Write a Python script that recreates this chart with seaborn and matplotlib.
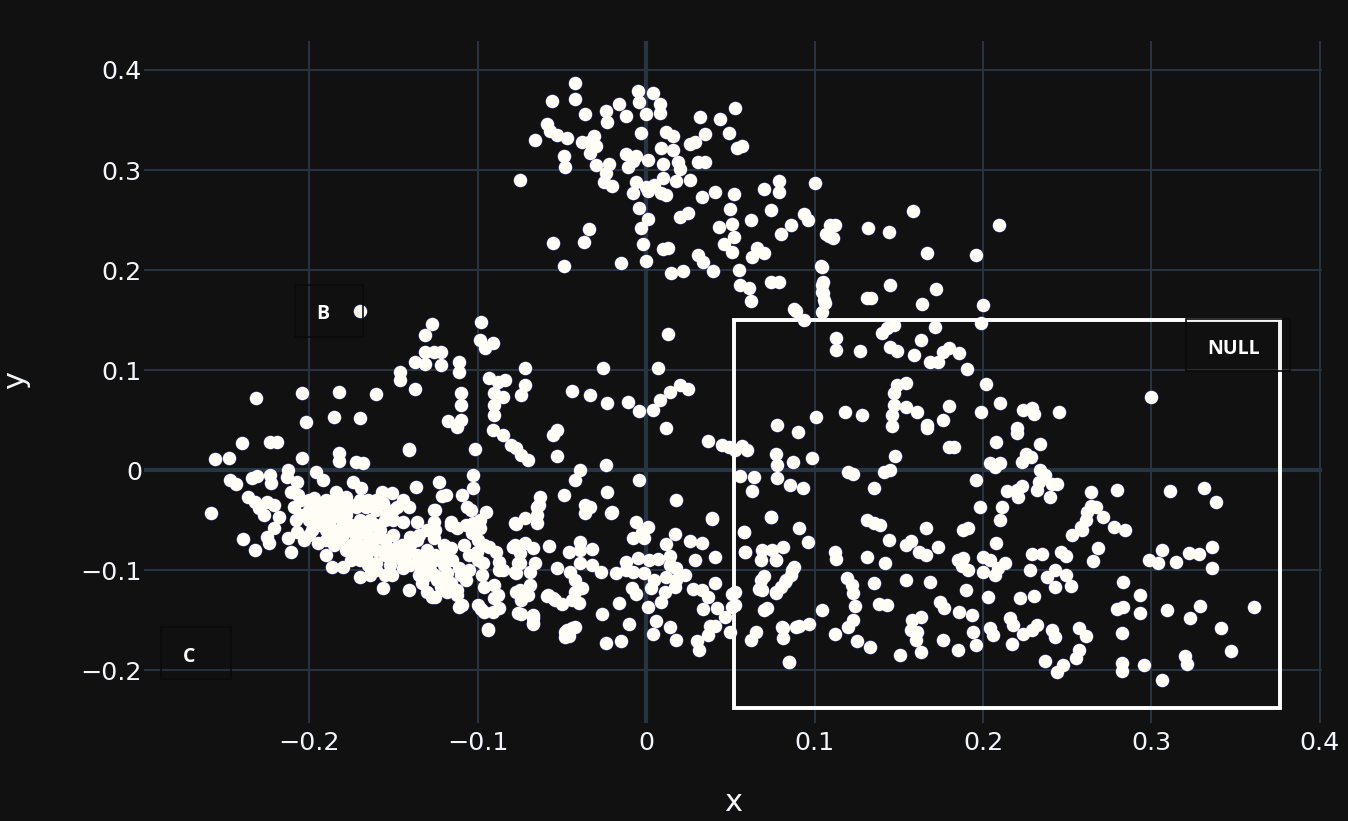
import pandas as pd
import matplotlib.pyplot as plt
import matplotlib.patches as patches
import seaborn as sns

# upper cluster
top_x = [-.042, -.042, -.056, -.036, -.024, -.016, -.023, -.012, -.005, .004,
         -.004, .008, .008, 0, -.059, -.057, -.053, -.047, -.066, -.031,
         -.038, -.030, -.033, -.034, -.049, -.048, -.030, -.022, -.024, -.025,
         -.020, -.012, -.006, -.008, -.011, .001, -.003, .012, .016, .009,
         .016, .019, .020, .010, .010, .018, .026, -.006, -.008, 0,
         .005, .001, .009, .012, .032, .044, .053, .035, .026, .029,
         .049, .054, .057, .031, .035, .033, .041, .052, .050, .070,
         .079, .079, .100, .074, .062, .094, .096, .086, .080, .043,
         .051, .052, .046, .051, .066, .070, .063, .020, .025, .001,
         -.003, -.004, -.002, .010, .013, 0, .031, .034, .040, .015,
         .022, .055, .056, .061, .062, .074, .079, -.034, -.037, -.055,
         -.049, -.015, -.075, .104, .105, .105, .106, .088, .107, .109]
top_y = [.387, .371, .369, .356, .359, .366, .348, .354, .379, .377,
         .368, .366, .357, .356, .346, .339, .335, .332, .330, .334,
         .328, .324, .317, .328, .314, .303, .305, .306, .297, .288,
         .284, .316, .314, .309, .303, .310, .337, .338, .334, .322,
         .320, .308, .301, .306, .292, .289, .290, .288, .277, .283,
         .285, .279, .277, .275, .353, .351, .362, .336, .326, .328,
         .337, .322, .324, .308, .308, .273, .278, .276, .261, .281,
         .289, .278, .287, .260, .250, .256, .250, .245, .236, .243,
         .246, .233, .226, .218, .222, .217, .213, .253, .257, .251,
         .242, .262, .226, .221, .222, .209, .215, .208, .199, .197,
         .199, .200, .185, .182, .169, .188, .188, .241, .228, .227,
         .204, .207, .290, .204, .188, .177, .167, .161, .236, .245]

# upper right, above the box and just inside it
upper_x = [.089, .094, .1045, .1045, .1045, .1056, .1045, .1086, .112, .111,
           .132, .144, .1585, .167, .196, .2095, .145, .131, .1335, .164,
           .172, .200, .199, .113, .113, .127, .140, .143, .147, .145,
           .149, .159, .163, .1715, .180, .176, .186, .1685, .173, .1905,
           .202, .210, .300, .154, .149, .147, .147, .146, .146, .154,
           .161, .167, .167, .176, .180, .180, .183, .118, .128, .101,
           .078, .090, .077, .0985, .087, .078, .078, .0855, .093, .120,
           .123, .135, .141, .145, .148, .057, .053, .045, .049, .060,
           .056, .064, .063, .208, .199, .210, .204, .207, .196, .223,
           .2255, .220, .220, .224, .229, .230, .245, .234, .2285, .234,
           .237, .241, .244, .233, .232, .223, .220, .221, .214, .211,
           .210, .240, .198, .191, .188]
upper_y = [.159, .150, .203, .185, .178, .170, .158, .234, .245, .232,
           .242, .238, .259, .217, .215, .245, .185, .172, .172, .166,
           .181, .165, .147, .132, .120, .119, .137, .142, .145, .123,
           .119, .115, .130, .143, .122, .118, .117, .108, .108, .101,
           .086, .067, .073, .087, .085, .077, .065, .055, .044, .063,
           .058, .045, .042, .050, .064, .023, .023, .058, .055, .053,
           .045, .038, .016, .012, .008, .005, -.008, -.015, -.018, -.002,
           -.004, -.018, -.002, 0, .014, .024, .020, .025, .023, .020,
           -.006, -.007, -.021, .028, .058, .007, .007, .003, -.010, .008,
           .016, .042, .037, .060, .062, .056, .058, .026, .013, 0,
           -.005, -.014, -.014, -.012, -.020, -.016, -.020, -.027, -.021, -.037,
           -.050, -.027, -.037, -.058, -.060]

# lower right, inside the box
lower_x = [.208, .131, .135, .139, .144, .166, .154, .157, .162, .166,
           .173, .131, .142, .112, .113, .096, .091, .074, .058, .059,
           .075, .068, .077, .088, .086, .083, .080, .077, .069, .068,
           .072, .053, .053, .1045, .081, .091, .097, .085, .119, .122,
           .135, .154, .123, .124, .138, .143, .123, .120, .112, .125,
           .133, .151, .158, .163, .157, .161, .160, .163, .176, .185,
           .196, .194, .204, .206, .217, .224, .218, .216, .229, .232,
           .241, .243, .237, .2475, .244, .255, .257, .257, .261, .2795,
           .283, .283, .2825, .2825, .2825, .2955, .306, .293, .293, .309,
           .320, .321, .323, .329, .341, .347, .361, .2985, .304, .306,
           .3145, .322, .328, .336, .336, .311, .331, .338, .264, .2795,
           .264, .267, .262, .271, .261, .278, .284, .259, .253, .268,
           .258, .265, .229, .235, .228, .249, .246, .243, .238, .249,
           .243, .252, .222, .230, .200, .204, .188, .185, .1875, .191,
           .200, .213, .209, .207, .1685, .1745, .177, .186, .1935, .203, .190]
lower_y = [-.073, -.050, -.053, -.055, -.070, -.058, -.075, -.071, -.082, -.085,
           -.077, -.087, -.093, -.082, -.089, -.072, -.058, -.047, -.062, -.082,
           -.080, -.090, -.090, -.097, -.105, -.110, -.117, -.122, -.120, -.110,
           -.138, -.122, -.135, -.140, -.158, -.156, -.154, -.192, -.108, -.115,
           -.113, -.110, -.123, -.136, -.134, -.135, -.150, -.157, -.164, -.171,
           -.177, -.185, -.150, -.147, -.160, -.162, -.170, -.182, -.170, -.180,
           -.175, -.162, -.158, -.165, -.174, -.164, -.155, -.148, -.160, -.155,
           -.160, -.167, -.191, -.195, -.202, -.188, -.180, -.158, -.166, -.139,
           -.112, -.137, -.163, -.193, -.201, -.195, -.210, -.143, -.125, -.140,
           -.186, -.194, -.148, -.136, -.158, -.181, -.137, -.090, -.093, -.080,
           -.092, -.083, -.084, -.077, -.098, -.021, -.018, -.032, -.022, -.020,
           -.036, -.037, -.042, -.047, -.050, -.057, -.060, -.060, -.065, -.078,
           -.057, -.091, -.084, -.084, -.100, -.086, -.082, -.100, -.107, -.105,
           -.117, -.116, -.128, -.126, -.087, -.090, -.088, -.090, -.096, -.100,
           -.102, -.093, -.098, -.105, -.112, -.132, -.138, -.142, -.145, -.127, -.120]

# left side, sparse points above the dense band
mid_x = [-.2315, -.204, -.202, -.182, -.185, -.170, -.160, -.170, -.127, -.131,
         -.146, -.146, -.137, -.137, -.131, -.131, -.126, -.122, -.122, -.111,
         -.111, -.110, -.110, -.110, -.1175, -.112, -.141, -.1015, -.098, -.0985,
         -.0955, -.091, -.093, -.088, -.084, -.090, -.085, -.090, -.090, -.091,
         -.085, -.080, -.077, -.074, -.070, -.072, -.072, -.074, -.053, -.055,
         -.053, -.044, -.0255, -.033, -.023, -.011, -.004, .004, .008, .007,
         .013, .014, .020, .025, .012, .037, -.024, -.039, -.042, -.049,
         -.004, -.063, -.0635, -.065, -.072, -.036, -.036, -.023, -.020, .018, .039]
mid_y = [.072, .077, .048, .078, .053, .052, .076, .159, .146, .135,
         .098, .090, .108, .081, .118, .106, .118, .118, .105, .108,
         .098, .077, .065, .050, .049, .043, .020, .021, .148, .130,
         .122, .127, .092, .088, .090, .077, .073, .065, .055, .040,
         .035, .025, .022, .015, .010, .102, .085, .075, .040, .035,
         .014, .079, .102, .075, .067, .068, .059, .060, .070, .102,
         .136, .078, .085, .081, .042, .029, .005, 0, -.010, -.025,
         -.010, -.027, -.035, -.045, -.048, -.035, -.043, -.022, -.042, -.030, -.049]

# dense band on the left
dense_x = [-.258, -.256, -.2475, -.240, -.223, -.219, -.204, -.182, -.182, -.172,
           -.168, -.141, -.103, -.247, -.2435, -.234, -.231, -.223, -.2225, -.2125,
           -.213, -.207, -.211, -.2065, -.196, -.192, -.236, -.232, -.230, -.227,
           -.225, -.221, -.218, -.221, -.225, -.224, -.239, -.232, -.211, -.2125,
           -.209, -.208, -.207, -.203, -.197, -.1945, -.1915, -.195, -.1875, -.184,
           -.178, -.174, -.169, -.157, -.151, -.144, -.141, -.148, -.156, -.166,
           -.172, -.178, -.182, -.1855, -.182, -.178, -.172, -.166, -.160, -.152,
           -.151, -.170, -.164, -.1865, -.180, -.156, -.141, -.144, -.148, -.142,
           -.136, -.132, -.128, -.124, -.133, -.127, -.118, -.112, -.111, -.120,
           -.125, -.116, -.108, -.1035, -.1025, -.0985, -.116, -.112, -.126, -.126,
           -.126, -.121, -.123, -.1365, -.103, -.106, -.095, -.144, -.136, -.140,
           -.136, -.148, -.154, -.163, -.158, -.172, -.176, -.168, -.164, -.154,
           -.096, -.089, -.087, -.0965, -.1005, -.0975, -.096, -.090, -.090, -.098,
           -.091, -.094, -.107, -.111, -.118, -.116, -.122, -.078, -.079, -.076,
           -.077, -.076, -.076, -.190, -.185, -.180, -.175, -.170, -.165, -.160,
           -.155, -.175, -.185, -.190, -.178, -.200, -.198, -.205, -.165, -.170,
           -.160, -.150, -.145, -.130, -.120, -.125]
dense_y = [-.043, .011, .012, .027, .028, .028, .012, .017, .009, .008,
           .007, .021, -.005, -.010, -.014, -.008, -.006, -.005, -.013, 0,
           -.007, -.012, -.022, -.025, -.002, -.010, -.027, -.032, -.038, -.045,
           -.032, -.035, -.047, -.058, -.067, -.073, -.069, -.080, -.082, -.068,
           -.037, -.050, -.062, -.070, -.028, -.037, -.050, -.073, -.050, -.022,
           -.027, -.012, -.018, -.022, -.023, -.030, -.037, -.037, -.033, -.037,
           -.037, -.040, -.047, -.060, -.070, -.080, -.083, -.087, -.093, -.095,
           -.105, -.107, -.105, -.097, -.097, -.118, -.120, -.098, -.085, -.083,
           -.085, -.090, -.100, -.110, -.113, -.127, -.122, -.125, -.137, -.085,
           -.085, -.078, -.075, -.063, -.053, -.058, -.052, -.058, -.052, -.068,
           -.040, -.026, -.012, -.017, -.018, -.037, -.042, -.052, -.052, -.067,
           -.070, -.077, -.077, -.070, -.060, -.067, -.060, -.057, -.050, -.045,
           -.075, -.082, -.092, -.093, -.082, -.105, -.117, -.115, -.128, -.139,
           -.142, -.159, -.110, -.098, -.103, -.113, -.117, -.053, -.077, -.093,
           -.103, -.122, -.143, -.060, -.040, -.055, -.075, -.050, -.065, -.080,
           -.085, -.090, -.075, -.085, -.045, -.050, -.060, -.045, -.095, -.075,
           -.040, -.050, -.075, -.080, -.095, -.090]

# points buried inside the dense band, estimated
packed_x = [-.205, -.200, -.200, -.195, -.190, -.190, -.185, -.180, -.175, -.170,
            -.165, -.160, -.200, -.195, -.190, -.185, -.180, -.175, -.170, -.165,
            -.160, -.155, -.150, -.150, -.155, -.160, -.165, -.170, -.160, -.155,
            -.150, -.145, -.140, -.135, -.130, -.125, -.120, -.135, -.140, -.135,
            -.130, -.125, -.120, -.115, -.110, -.105, -.105, -.100, -.100, -.085]
packed_y = [-.030, -.040, -.030, -.045, -.040, -.030, -.030, -.035, -.035, -.030,
            -.030, -.030, -.065, -.055, -.070, -.065, -.065, -.055, -.060, -.055,
            -.055, -.050, -.040, -.065, -.070, -.068, -.078, -.090, -.100, -.105,
            -.085, -.090, -.095, -.095, -.105, -.105, -.110, -.105, -.075, -.065,
            -.060, -.060, -.075, -.090, -.105, -.085, -.100, -.070, -.090, -.100]

# bottom band, centre of the chart
band_x = [-.065, -.033, -.021, -.077, -.065, .039, .074, -.006, .001, -.0025,
          -.008, -.0015, .017, .012, .026, .033, .058, .059, .069, .0815,
          .077, .029, .041, -.079, -.072, -.067, -.0575, -.075, -.0395, -.0455,
          -.039, -.032, -.039, -.032, -.027, -.018, -.012, -.012, -.008, -.0015,
          -.005, .002, .007, .014, .014, .018, .023, .018, .012, .005,
          .003, .017, .011, .009, -.053, -.045, -.042, -.038, -.042, -.044,
          -.040, -.059, -.055, -.050, -.078, -.075, -.066, -.069, -.069, -.077,
          -.074, -.074, -.067, -.067, -.0085, -.006, -.016, -.026, .001, -.010,
          .006, .014, .004, .018, -.015, -.024, -.042, -.048, -.046, .028,
          .033, .041, .037, .0335, .042, .047, .051, .051, .050, .038,
          .041, .037, .030, .0315, .070, .067, .070, .0865, .0825, .077,
          .0805, .0815, .089, .065, .062, .085, -.100, -.096, -.094, -.088,
          -.087, -.093, -.078, -.067, -.067, -.075, -.070, -.058, -.054, -.047,
          -.044, -.048, -.087, -.109, -.112, -.119, -.130, -.125, -.119, -.125,
          -.116, -.104, -.0985, -.109, -.107]
band_y = [-.037, -.037, -.043, -.054, -.053, -.048, -.047, -.052, -.057, -.062,
          -.068, -.068, -.064, -.074, -.071, -.073, -.062, -.082, -.080, -.077,
          -.090, -.090, -.087, -.077, -.073, -.078, -.076, -.083, -.072, -.082,
          -.080, -.079, -.093, -.095, -.102, -.103, -.092, -.100, -.102, -.103,
          -.088, -.090, -.089, -.086, -.095, -.098, -.105, -.110, -.107, -.110,
          -.118, -.117, -.122, -.132, -.098, -.102, -.110, -.118, -.122, -.130,
          -.133, -.126, -.128, -.134, -.102, -.093, -.093, -.102, -.115, -.122,
          -.130, -.144, -.145, -.153, -.118, -.124, -.133, -.144, -.137, -.154,
          -.151, -.157, -.164, -.170, -.171, -.173, -.157, -.162, -.166, -.119,
          -.120, -.113, -.127, -.139, -.138, -.147, -.124, -.137, -.162, -.156,
          -.156, -.165, -.171, -.180, -.106, -.119, -.140, -.100, -.112, -.123,
          -.157, -.168, -.157, -.162, -.170, -.192, -.135, -.142, -.160, -.125,
          -.100, -.077, -.075, -.148, -.154, -.120, -.125, -.125, -.130, -.160,
          -.158, -.167, -.138, -.135, -.120, -.120, -.122, -.127, -.025, -.040,
          -.055, -.040, -.050, -.025, -.055]

x_vals = top_x + upper_x + lower_x + mid_x + dense_x + packed_x + band_x
y_vals = top_y + upper_y + lower_y + mid_y + dense_y + packed_y + band_y

x_ticks = [-.2, -.1, 0, .1, .2, .3, .4]
x_tick_labels = ['\u22120.2', '\u22120.1', '0', '0.1', '0.2', '0.3', '0.4']
y_ticks = [-.2, -.1, 0, .1, .2, .3, .4]
y_tick_labels = ['\u22120.2', '\u22120.1', '0', '0.1', '0.2', '0.3', '0.4']

BG = '#111111'
GRID = '#283442'
TEXT = '#f2f5fa'

sns.set_theme(style='dark', rc={'figure.facecolor': BG, 'axes.facecolor': BG})
plt.rcParams['font.family'] = ['DejaVu Sans']

df = pd.DataFrame({'x': x_vals, 'y': y_vals})

fig = plt.figure(figsize=(13.48, 8.21), dpi=100)
ax = fig.add_axes([144 / 1348, 1 - 723 / 821, (1322 - 144) / 1348, (723 - 41) / 821])

# outline layer first so overlapping points merge into one blob
sns.scatterplot(data=df, x='x', y='y', ax=ax, color='#343a8c', s=104,
                linewidth=0, zorder=3, clip_on=False)
sns.scatterplot(data=df, x='x', y='y', ax=ax, color='#fffdf5', s=92,
                linewidth=0, zorder=3.1, clip_on=False)

ax.set_xlim(-.298, .4012)
ax.set_ylim(-.253, .429)
ax.set_xticks(x_ticks)
ax.set_xticklabels(x_tick_labels)
ax.set_yticks(y_ticks)
ax.set_yticklabels(y_tick_labels)
ax.tick_params(axis='both', length=0, labelsize=18.3, labelcolor=TEXT)
ax.tick_params(axis='x', pad=6)
ax.tick_params(axis='y', pad=1.5)
ax.grid(True, color=GRID, linewidth=1.4, zorder=0)
ax.set_axisbelow(True)
ax.axhline(0, color=GRID, linewidth=3, zorder=1)
ax.axvline(0, color=GRID, linewidth=3, zorder=1)
for side in ax.spines:
    ax.spines[side].set_visible(False)

ax.set_xlabel('')
ax.set_ylabel('')
fig.text(733 / 1348, 1 - 802 / 821, 'x', color=TEXT, fontsize=22, ha='center', va='center')
fig.text(16 / 1348, 1 - 380 / 821, 'y', color=TEXT, fontsize=22, ha='center', va='center', rotation=90)

# selection box
ax.add_patch(patches.Rectangle((.0522, -.238), .3241, .388, fill=False,
                               edgecolor='white', linewidth=2.8, zorder=4))

# label boxes
labels = [('B', (-.2083, .133), .0403, .052, (-.1917, .156)),
          ('NULL', (.3205, .099), .0617, .052, (.349, .1215)),
          ('C', (-.2878, -.209), .0415, .052, (-.2712, -.1865))]
for text, corner, w, h, pos in labels:
    ax.add_patch(patches.Rectangle(corner, w, h, facecolor=(0, 0, 0, .04),
                                   edgecolor='#0a0a0a', linewidth=1.2, zorder=5))
    ax.text(pos[0], pos[1], text, color='white', fontsize=14, fontweight='bold',
            family='Open Sans', ha='center', va='center', zorder=6)

plt.savefig('out.png', dpi=100, facecolor=BG)
plt.close()
